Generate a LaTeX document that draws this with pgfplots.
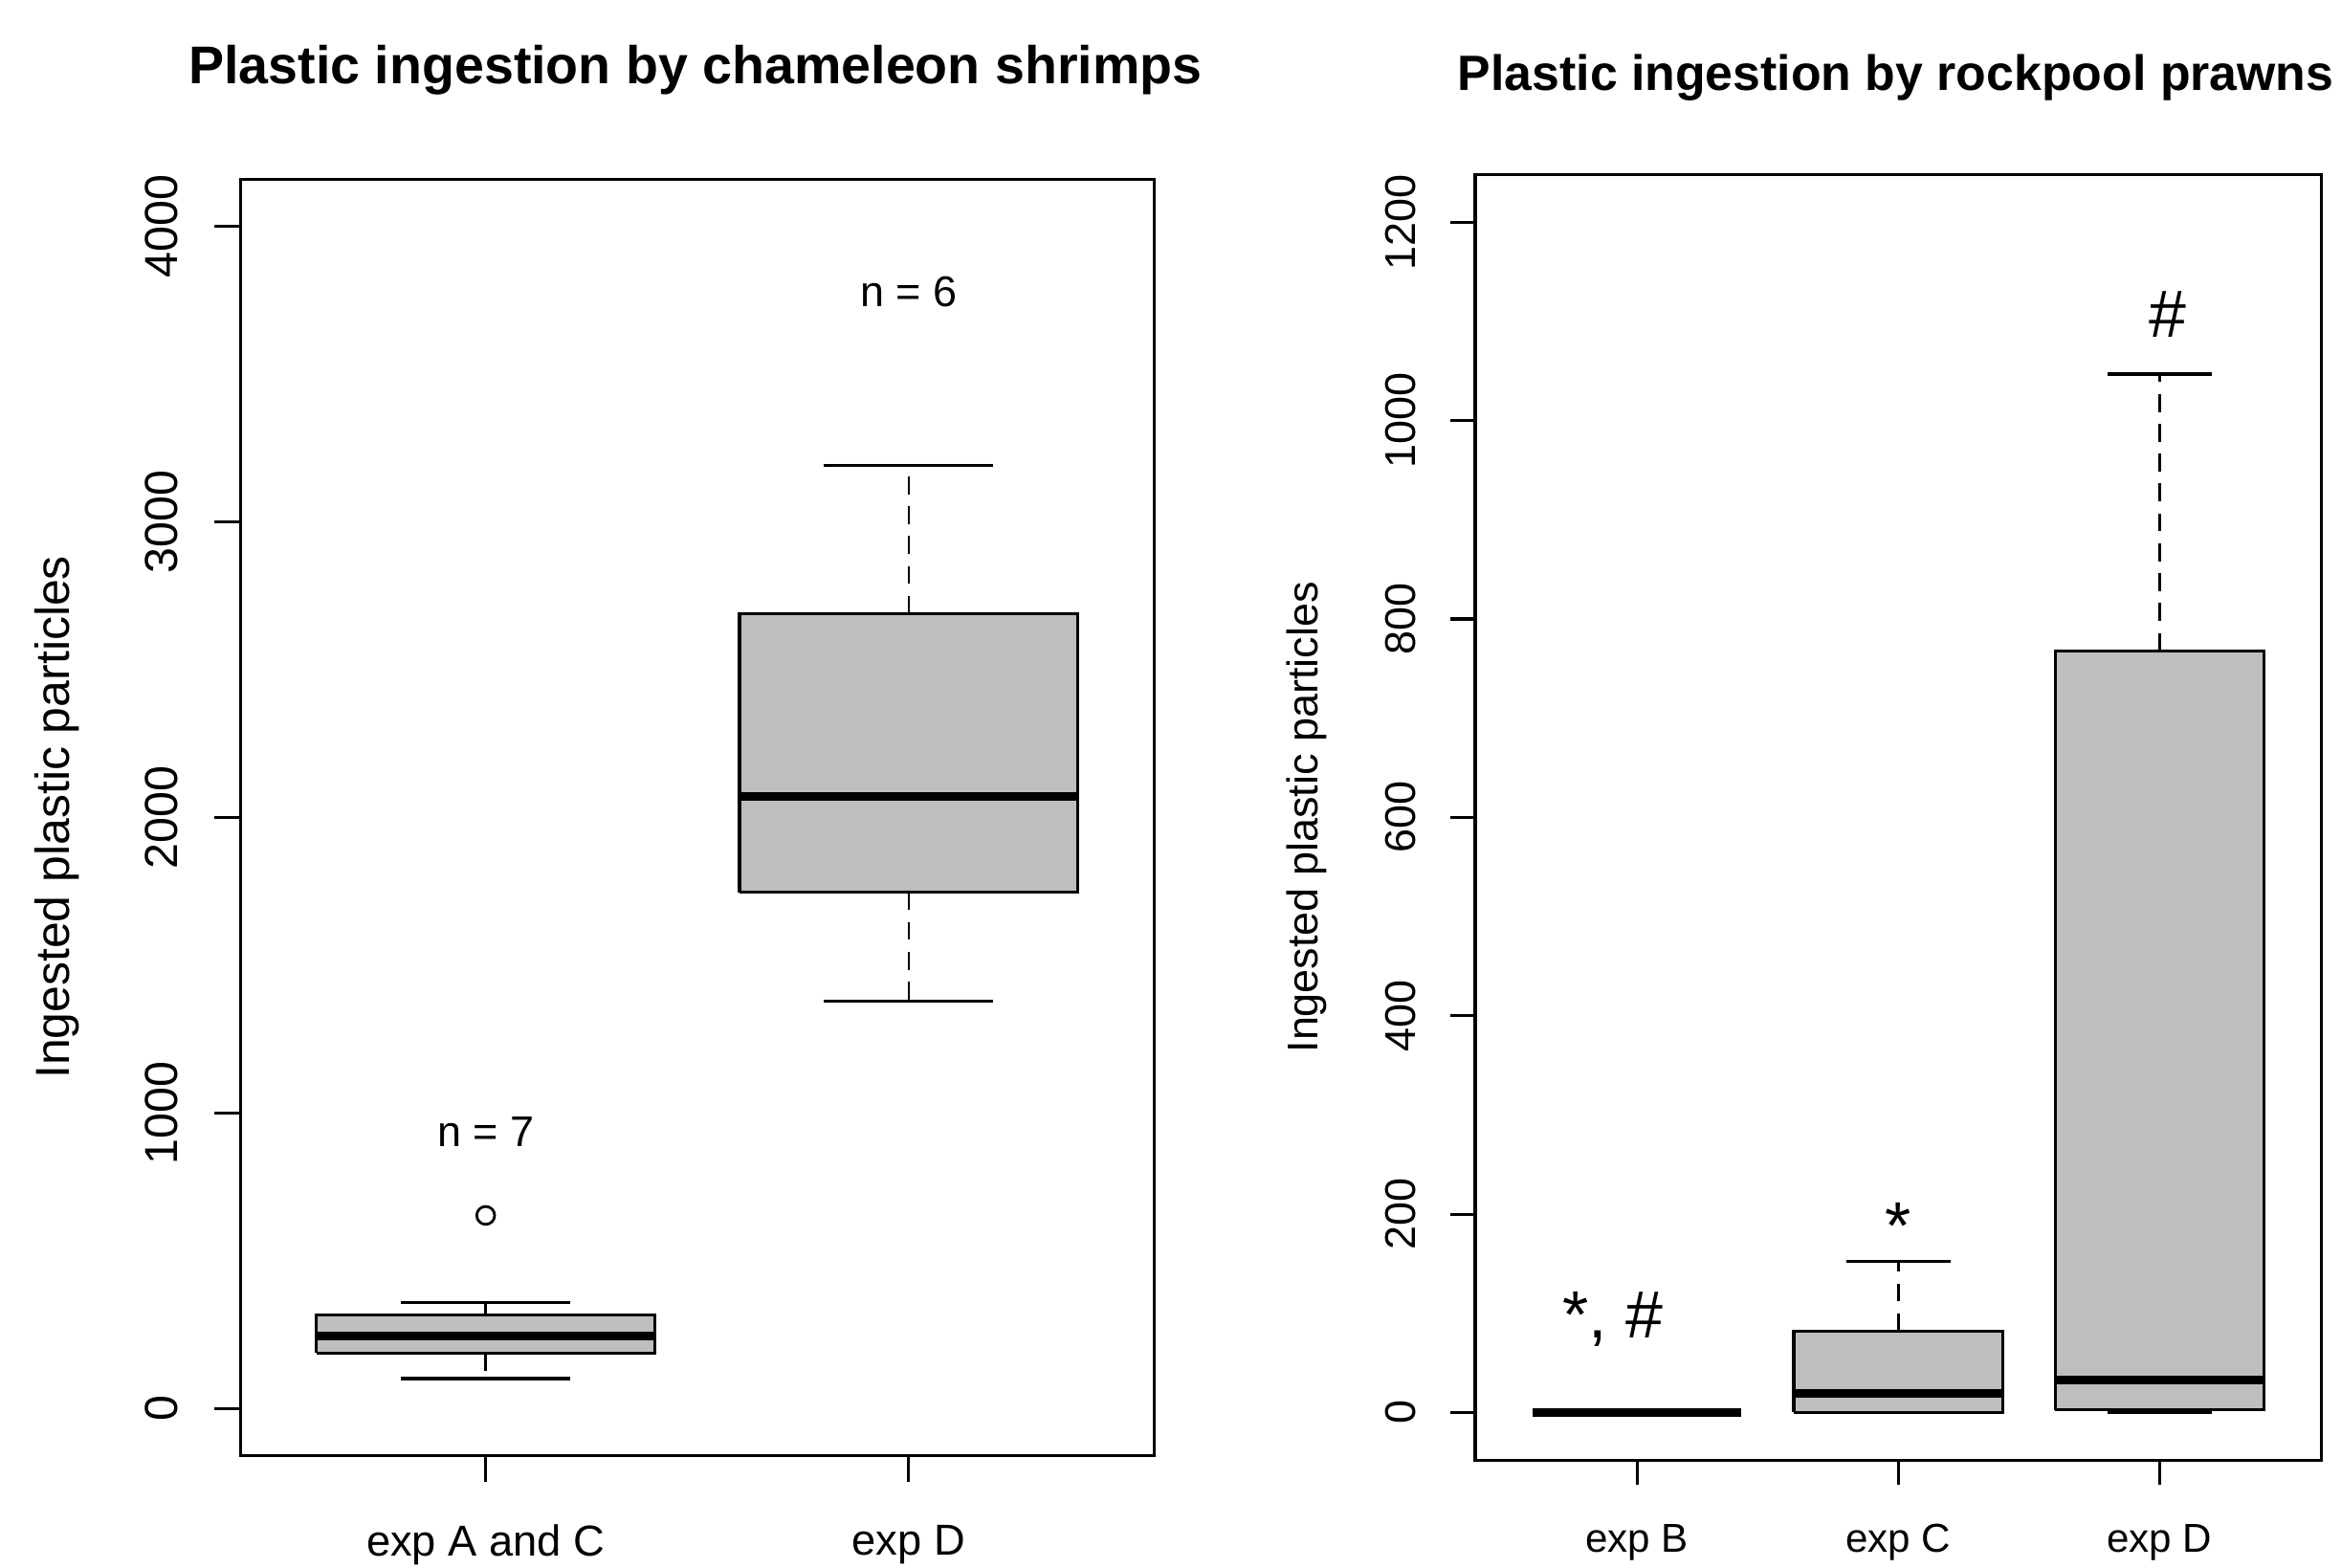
\documentclass[border=0pt]{standalone}
\usepackage{fontspec}
\setmainfont{Liberation Sans}
\usepackage{pgfplots}
\pgfplotsset{compat=1.18}
\definecolor{boxgray}{HTML}{BEBEBE}

\pgfplotsset{
  boxst/.style={draw=black, fill=boxgray, line width=0.5pt, mark=none},
  medst/.style={black, line width=1.5pt, mark=none},
  whst/.style={black, line width=0.4pt, dash pattern=on 3pt off 2pt, mark=none},
  capst/.style={black, line width=0.5pt, mark=none},
  rframe/.style={
    scale only axis, anchor=south west, clip=false,
    axis line style={line width=0.55pt},
    tick align=outside, tick pos=left,
    tick style={black, line width=0.5pt},
    minor tick num=0, scaled ticks=false,
    /pgf/number format/assume math mode=true,
    /pgf/number format/1000 sep={},
    yticklabel style={rotate=90, anchor=south, inner sep=0pt},
    xticklabel style={anchor=north, inner sep=0pt},
  },
}

\begin{document}
\begin{tikzpicture}
% left panel: chameleon shrimps
\begin{axis}[rframe,
  at={(40.25pt,18.75pt)}, width=153pt, height=213.75pt,
  xmin=0.42, xmax=2.58, ymin=-160, ymax=4160,
  xtick={1,2}, xticklabels={exp A and C, exp D},
  ytick={0,1000,2000,3000,4000},
  major tick length=4.4pt,
  yticklabel shift=5.85pt, xticklabel shift=7pt,
  yticklabel style={font=\fontsize{7.75}{8}\selectfont},
  xticklabel style={font=\fontsize{7.25}{8}\selectfont},
  title={Plastic ingestion by chameleon shrimps},
  title style={at={(axis description cs:0.498,1.089)}, anchor=center, yshift=-6.75pt,
    font=\fontsize{8.9}{10}\selectfont\bfseries},
  ylabel={Ingested plastic particles},
  ylabel style={at={(axis description cs:-0.201,0.5)}, anchor=center,
    font=\fontsize{8}{9}\selectfont},
]
% exp A and C: whiskers 101..357, box 188..317, median 244, outlier 653
\addplot[boxst] coordinates {(0.6,188) (1.4,188) (1.4,317) (0.6,317) (0.6,188)};
\addplot[medst] coordinates {(0.6,244) (1.4,244)};
\addplot[whst] coordinates {(1,317) (1,357)};
\addplot[whst] coordinates {(1,188) (1,101)};
\addplot[capst] coordinates {(0.8,357) (1.2,357)};
\addplot[capst] coordinates {(0.8,101) (1.2,101)};
\addplot[only marks, mark=o, mark size=1.5pt, black, line width=0.45pt] coordinates {(1,653)};
% exp D: whiskers 1377..3190, box 1747..2689, median 2071
\addplot[boxst] coordinates {(1.6,1747) (2.4,1747) (2.4,2689) (1.6,2689) (1.6,1747)};
\addplot[medst] coordinates {(1.6,2071) (2.4,2071)};
\addplot[whst] coordinates {(2,2689) (2,3190)};
\addplot[whst] coordinates {(2,1747) (2,1377)};
\addplot[capst] coordinates {(1.8,3190) (2.2,3190)};
\addplot[capst] coordinates {(1.8,1377) (2.2,1377)};
\node[anchor=base, font=\fontsize{7.2}{8}\selectfont] at (axis cs:1,886) {n = 7};
\node[anchor=base, font=\fontsize{7.2}{8}\selectfont] at (axis cs:2,3727) {n = 6};
\end{axis}

% right panel: rockpool prawns
\begin{axis}[rframe,
  at={(247pt,18pt)}, width=141.75pt, height=215.25pt,
  xmin=0.38, xmax=3.62, ymin=-48, ymax=1248,
  xtick={1,2,3}, xticklabels={exp B, exp C, exp D},
  ytick={0,200,400,600,800,1000,1200},
  major tick length=4.1pt,
  yticklabel shift=5.6pt, xticklabel shift=6.4pt,
  yticklabel style={font=\fontsize{7.2}{8}\selectfont},
  xticklabel style={font=\fontsize{6.75}{8}\selectfont},
  title={Plastic ingestion by rockpool prawns},
  title style={at={(axis description cs:0.497,1.080)}, anchor=center, yshift=-7pt,
    font=\fontsize{8.3}{10}\selectfont\bfseries},
  ylabel={Ingested plastic particles},
  ylabel style={at={(axis description cs:-0.199,0.5)}, anchor=center,
    font=\fontsize{7.2}{8}\selectfont},
]
% exp B: all values 0
\addplot[capst] coordinates {(0.6,0) (1.4,0)};
\addplot[medst] coordinates {(0.6,0) (1.4,0)};
% exp C: whiskers 0..152.7, box 0..81.9, median 19.3
\addplot[boxst] coordinates {(1.6,0) (2.4,0) (2.4,81.9) (1.6,81.9) (1.6,0)};
\addplot[medst] coordinates {(1.6,19.3) (2.4,19.3)};
\addplot[whst] coordinates {(2,81.9) (2,152.7)};
\addplot[capst] coordinates {(1.8,152.7) (2.2,152.7)};
\addplot[capst] coordinates {(1.8,0) (2.2,0)};
% exp D: whiskers 0..1047, box 2.6..768, median 32.8
\addplot[boxst] coordinates {(2.6,2.6) (3.4,2.6) (3.4,768) (2.6,768) (2.6,2.6)};
\addplot[medst] coordinates {(2.6,32.8) (3.4,32.8)};
\addplot[whst] coordinates {(3,768) (3,1047)};
\addplot[capst] coordinates {(2.8,1047) (3.2,1047)};
\addplot[capst] coordinates {(2.8,0) (3.2,0)};
\node[anchor=base, font=\fontsize{11.2}{12}\selectfont] at (axis cs:0.906,75.5) {*, \#};
\node[anchor=base, font=\fontsize{11.2}{12}\selectfont] at (axis cs:2,164.5) {*};
\node[anchor=base, font=\fontsize{11.2}{12}\selectfont] at (axis cs:3.03,1084.5) {\#};
\end{axis}

\pgfresetboundingbox
\useasboundingbox (0,0) rectangle (392pt,262.5pt);
\end{tikzpicture}
\end{document}
